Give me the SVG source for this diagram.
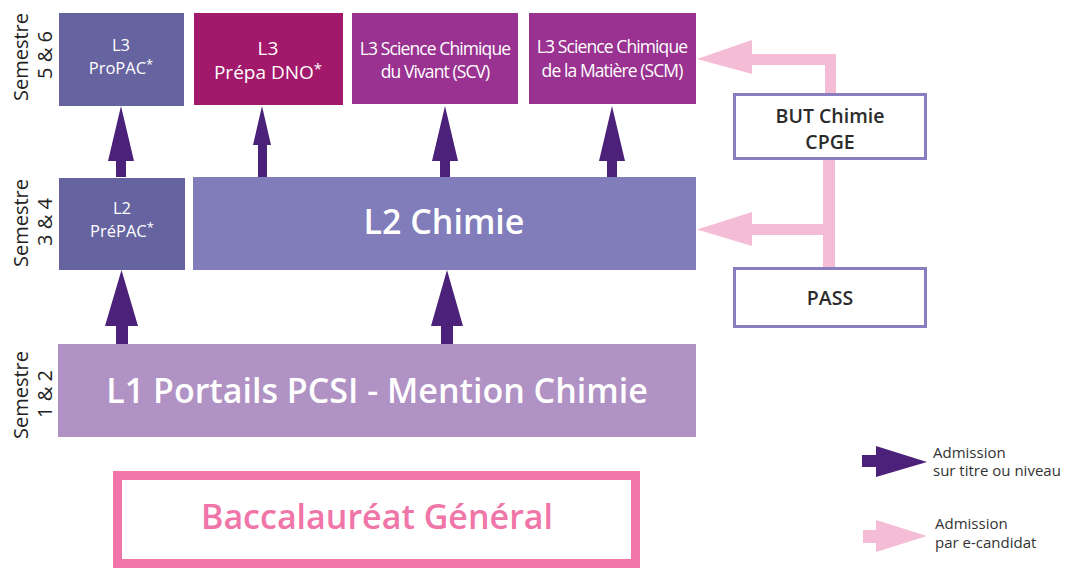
<svg xmlns="http://www.w3.org/2000/svg" width="1067" height="569" viewBox="0 0 1067 569">
<style>
text{font-family:"Open Sans","Noto Sans",sans-serif}
.w{fill:#fff;text-anchor:middle}
.sm{font-size:16.5px}
.cond{font-size:17.5px;letter-spacing:-0.9px}
.big{font-size:34px;font-weight:600}
.sem{font-size:20px;fill:#222;text-anchor:middle}
.dk{fill:#4b2179}
.pk{fill:#f5bcd6}
.ob{fill:#fff;stroke:#8a7dbf;stroke-width:3}
.ot{font-size:19.5px;font-weight:600;fill:#2b2b2b;text-anchor:middle}
.lg{font-size:15px;fill:#333}
</style>
<rect width="1067" height="569" fill="#fff"/>
<g id="sem56"><text class="sem" transform="translate(28,57) rotate(-90)">Semestre</text><text class="sem" transform="translate(52,55) rotate(-90)">5 &amp; 6</text></g>
<g id="sem34"><text class="sem" transform="translate(28,223) rotate(-90)">Semestre</text><text class="sem" transform="translate(52,222) rotate(-90)">3 &amp; 4</text></g>
<g id="sem12"><text class="sem" transform="translate(28,395) rotate(-90)">Semestre</text><text class="sem" transform="translate(52,394) rotate(-90)">1 &amp; 2</text></g>

<g id="connectors">
<polygon class="dk" points="121,106 134,161 126,161 126,177 116,177 116,161 108,161"/>
<polygon class="dk" points="262,106 271,145 267,145 267,177 258,177 258,145 253,145"/>
<polygon class="dk" points="445,106 458,161 450,161 450,177 440,177 440,161 432,161"/>
<polygon class="dk" points="612,106 625,161 617,161 617,177 607,177 607,161 599,161"/>
<polygon class="dk" points="121.5,270 138,326 128,326 128,344 116,344 116,326 105,326"/>
<polygon class="dk" points="447,270 463,326 453,326 453,344 441,344 441,326 431,326"/>
<polygon class="pk" points="825,94 825,65 752,65 752,74 697,59 752,40 752,54 836,54 836,94"/>
<polygon class="pk" points="823,160 835,160 835,268 823,268 823,235 752,235 752,246 697,229.5 752,212 752,224 823,224"/>
</g>

<g id="l3propac"><rect x="59" y="13" width="125" height="93" fill="#6563a0"/><text class="w sm" x="121" y="51">L3</text><text class="w sm" x="121" y="74">ProPAC<tspan font-size="13" dy="-5">*</tspan></text></g>
<g id="l3dno"><rect x="194" y="13" width="149" height="92" fill="#a2196b"/><text class="w" font-size="19" x="268" y="55">L3</text><text class="w" font-size="19" x="268" y="79">Prépa DNO<tspan font-size="15" dy="-5">*</tspan></text></g>
<g id="l3scv"><rect x="352" y="13" width="166" height="91" fill="#993290"/><text class="w cond" x="435" y="55">L3 Science Chimique</text><text class="w cond" x="435" y="78">du Vivant (SCV)</text></g>
<g id="l3scm"><rect x="529" y="13" width="167" height="91" fill="#993290"/><text class="w cond" x="612" y="53">L3 Science Chimique</text><text class="w cond" x="612" y="77">de la Matière (SCM)</text></g>
<g id="l2prepac"><rect x="59" y="178" width="126" height="92" fill="#6563a0"/><text class="w sm" x="122" y="214">L2</text><text class="w sm" x="122" y="237">PréPAC<tspan font-size="13" dy="-5">*</tspan></text></g>
<g id="l2chimie"><rect x="193" y="177" width="503" height="93" fill="#817cba"/><text class="w big" x="444" y="234">L2 Chimie</text></g>
<g id="l1"><rect x="58" y="344" width="638" height="93" fill="#b092c4"/><text class="w big" x="377" y="403">L1 Portails PCSI - Mention Chimie</text></g>
<g id="bac"><rect x="117.5" y="475.5" width="518" height="88" fill="#fff" stroke="#f075a8" stroke-width="9"/><text class="big" x="377" y="529" fill="#f075a8" text-anchor="middle">Baccalauréat Général</text></g>
<g id="but"><rect class="ob" x="734.5" y="94.5" width="191" height="64"/><text class="ot" x="830" y="123">BUT Chimie</text><text class="ot" x="830" y="149">CPGE</text></g>
<g id="pass"><rect class="ob" x="734.5" y="268.5" width="191" height="58"/><text class="ot" x="830" y="305">PASS</text></g>

<g id="legend">
<polygon class="dk" points="862,455 876,455 876,446 927,462 876,477 876,467 862,467"/>
<text class="lg" x="933" y="458">Admission</text><text class="lg" x="933" y="476">sur titre ou niveau</text>
<polygon class="pk" points="863,530 876,530 876,520 927,536 876,552 876,543 863,543"/>
<text class="lg" x="935" y="529">Admission</text><text class="lg" x="935" y="548">par e-candidat</text>
</g>
</svg>
